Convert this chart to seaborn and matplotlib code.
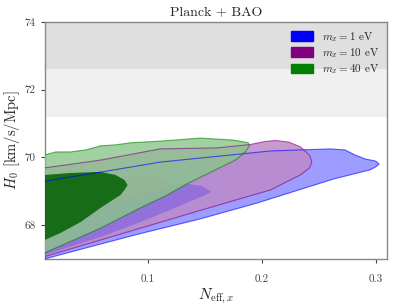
import matplotlib
matplotlib.use("Agg")
import matplotlib.pyplot as plt
import seaborn as sns
from matplotlib.patches import Patch

# contour outlines (N_eff,x , H0), traced from the top-left edge clockwise
blue_outer_x = [0.01, 0.06, 0.111, 0.155, 0.208, 0.234, 0.26, 0.273, 0.282, 0.291, 0.30, 0.303, 0.300, 0.295, 0.263, 0.196, 0.146, 0.094, 0.059, 0.01]
blue_outer_y = [69.30, 69.57, 69.86, 70.01, 70.19, 70.22, 70.25, 70.22, 70.07, 69.95, 69.89, 69.80, 69.72, 69.63, 69.36, 68.65, 68.18, 67.75, 67.44, 67.0]

blue_inner_x = [0.01, 0.06, 0.11, 0.131, 0.148, 0.156, 0.150, 0.12, 0.094, 0.059, 0.01]
blue_inner_y = [68.45, 68.78, 69.05, 69.24, 69.15, 68.98, 68.88, 68.45, 68.09, 67.65, 67.12]

purple_outer_x = [0.01, 0.059, 0.111, 0.161, 0.19, 0.203, 0.212, 0.224, 0.234, 0.242, 0.244, 0.242, 0.234, 0.225, 0.208, 0.155, 0.103, 0.059, 0.01]
purple_outer_y = [69.69, 69.92, 70.25, 70.28, 70.38, 70.47, 70.50, 70.45, 70.31, 70.07, 69.86, 69.69, 69.48, 69.33, 69.04, 68.52, 68.0, 67.56, 67.07]

purple_inner_x = [0.01, 0.06, 0.10, 0.115, 0.122, 0.115, 0.10, 0.06, 0.01]
purple_inner_y = [69.35, 69.40, 69.43, 69.35, 69.18, 69.02, 68.90, 68.60, 68.20]

green_outer_x = [0.01, 0.0195, 0.0326, 0.0458, 0.0589, 0.072, 0.0851, 0.1114, 0.1464, 0.1752, 0.1857, 0.1884, 0.1893, 0.1857, 0.177, 0.1595, 0.1376, 0.1157, 0.0939, 0.0589, 0.01]
green_outer_y = [70.07, 70.16, 70.16, 70.22, 70.34, 70.37, 70.43, 70.48, 70.57, 70.51, 70.45, 70.43, 70.34, 70.16, 69.92, 69.63, 69.27, 68.86, 68.51, 67.91, 67.18]

green_inner_x = [0.01, 0.0326, 0.0589, 0.072, 0.0799, 0.0825, 0.0799, 0.0764, 0.0589, 0.0414, 0.0239, 0.01]
green_inner_y = [69.48, 69.54, 69.57, 69.48, 69.33, 69.18, 69.04, 68.89, 68.51, 68.09, 67.77, 67.56]

# local H0 band (1 and 2 sigma)
band_dark = (72.6, 74.5)
band_light = (71.2, 72.6)

labels = [r"$m_x = 1$ eV", r"$m_x = 10$ eV", r"$m_x = 40$ eV"]
legend_colors = ["blue", "purple", "green"]
xticks = [0.1, 0.2, 0.3]
xticklabels = ["0.1", "0.2", "0.3"]
yticks = [68, 70, 72, 74]
yticklabels = ["68", "70", "72", "74"]

sns.set_style("ticks")
plt.rcParams["font.family"] = "serif"
plt.rcParams["font.serif"] = ["cmr10", "DejaVu Serif"]
plt.rcParams["mathtext.fontset"] = "cm"
plt.rcParams["axes.unicode_minus"] = False

fig = plt.figure(figsize=(3.97, 3.06), dpi=100)
ax = fig.add_axes([0.113, 0.154, 0.862, 0.774])

ax.axhspan(*band_dark, color="#dfdfdf", lw=0, zorder=0)
ax.axhspan(*band_light, color="#f0f0f0", lw=0, zorder=0)

# fills (order matters for the look of the overlaps)
ax.fill(blue_outer_x, blue_outer_y, color=(0.55, 0.55, 1.0), alpha=0.85, lw=0, zorder=1)
ax.fill(purple_outer_x, purple_outer_y, color=(0.74, 0.54, 0.79), alpha=0.85, lw=0, zorder=2)
ax.fill(blue_inner_x, blue_inner_y, color="blue", alpha=0.2, lw=0, zorder=3)
ax.fill(purple_inner_x, purple_inner_y, color=(0.72, 0.45, 0.72), alpha=0.8, lw=0, zorder=4)
ax.fill(green_outer_x, green_outer_y, color=(0.54, 0.775, 0.54), alpha=0.8, lw=0, zorder=5)
ax.fill(green_inner_x, green_inner_y, color=(0.05, 0.40, 0.05), alpha=0.92, lw=0, zorder=6)

# contour edges
for xs, ys, c in [(blue_outer_x, blue_outer_y, "blue"),
                  (purple_outer_x, purple_outer_y, "purple"),
                  (green_outer_x, green_outer_y, "green")]:
    sns.lineplot(x=xs, y=ys, sort=False, estimator=None, color=c, lw=0.8, alpha=0.6, ax=ax, zorder=7)

ax.set_xlim(0.01, 0.31)
ax.set_ylim(67, 74)
ax.set_xticks(xticks)
ax.set_xticklabels(xticklabels)
ax.set_yticks(yticks)
ax.set_yticklabels(yticklabels)
ax.tick_params(colors="#444444", labelsize=8, length=3, width=0.8, direction="out")
ax.tick_params(axis="x", pad=8)
for sp in ax.spines.values():
    sp.set_color("#888888")
    sp.set_linewidth(1.0)

ax.set_xlabel(r"$N_{\mathrm{eff},x}$", fontsize=11, labelpad=2)
ax.set_ylabel(r"$H_0$ [km/s/Mpc]", fontsize=10.5, labelpad=2)
ax.set_title("Planck + BAO", fontsize=10, pad=5)

handles = [Patch(facecolor=c, edgecolor=c) for c in legend_colors]
leg = ax.legend(handles, labels, loc="upper right", frameon=False, fontsize=8,
                handlelength=2.0, handleheight=0.9, labelspacing=0.2, borderaxespad=0.3)

fig.savefig("out.png", dpi=100)
